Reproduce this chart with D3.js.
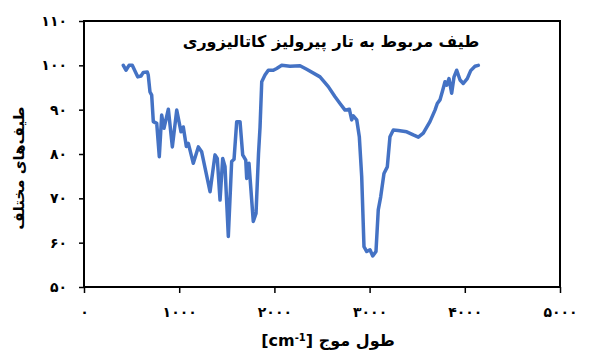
<!DOCTYPE html>
<html>
<head>
<meta charset="utf-8">
<script src="https://cdn.jsdelivr.net/npm/d3@7"></script>
<style>
  body { margin: 0; background: #fff; }
  text { font-family: "DejaVu Sans", "Liberation Serif", sans-serif; font-weight: bold; fill: #000; }
</style>
</head>
<body>
<div id="chart"></div>
<script>
// wavenumber (cm-1) and transmittance
const waveNumbers = [413, 441, 473, 507, 564, 599, 623, 665, 675, 693, 711, 728, 764, 791, 816, 840, 886, 928, 974, 1019,
  1043, 1075, 1096, 1148, 1201, 1236, 1324, 1376, 1400, 1429, 1457, 1481, 1516, 1551, 1576, 1604, 1639, 1667, 1699, 1709,
  1733, 1778, 1807, 1833, 1849, 1867, 1901, 1936, 1989, 2024, 2077, 2164, 2269, 2339, 2479, 2566, 2637, 2689, 2742, 2787,
  2812, 2829, 2865, 2892, 2917, 2941, 2970, 3004, 3033, 3067, 3091, 3117, 3151, 3186, 3214, 3249, 3301, 3390, 3459, 3512,
  3564, 3634, 3687, 3711, 3739, 3768, 3792, 3810, 3834, 3862, 3887, 3915, 3950, 3984, 4026, 4062, 4107, 4142];
const transmittance = [100, 98.9, 100, 100, 97.4, 97.6, 98.4, 98.5, 97.8, 94, 93.3, 87.3, 86.9, 79.4, 88.8, 85.8, 90.1, 81.6, 89.9, 85.0,
  86.1, 81.7, 82.4, 77.9, 81.6, 80.5, 71.5, 79.8, 79.0, 69.6, 79.0, 77.2, 61.4, 78.3, 78.8, 87.3, 87.3, 79.8, 78.6, 74.5,
  77.9, 64.8, 66.6, 80, 86, 96.3, 97.8, 98.9, 98.9, 99.3, 100, 99.8, 99.9, 99.1, 97.4, 95.2, 92.9, 91.4, 89.9, 90.1,
  87.7, 88.6, 87.7, 83.9, 74.9, 59.1, 58.0, 58.4, 57.0, 58.0, 67.4, 70.4, 75.6, 77.1, 83.9, 85.4, 85.3, 85.0, 84.3, 83.8,
  84.7, 87.3, 89.9, 91.4, 92.2, 94.4, 96.3, 95.5, 97.0, 93.7, 97.4, 98.9, 96.7, 95.9, 97.0, 98.8, 99.8, 100];
const xTicks = [0, 1000, 2000, 3000, 4000, 5000];
const yTicks = [50, 60, 70, 80, 90, 100, 110];

const chartTitle = "طیف مربوط به تار پیرولیز کاتالیزوری";
const yTitle = "طیف\u200Cهای مختلف";
const xTitle = "طول موج ";

const toFa = n => String(n).replace(/\d/g, c => "۰۱۲۳۴۵۶۷۸۹"[c]);

const width = 600, height = 358;
const margin = { top: 21, right: 40, bottom: 71, left: 84 };
const w = width - margin.left - margin.right;
const h = height - margin.top - margin.bottom;

const svg = d3.select("#chart").append("svg")
  .attr("width", width)
  .attr("height", height);

const g = svg.append("g").attr("transform", `translate(${margin.left},${margin.top})`);

const x = d3.scaleLinear().domain([0, 5000]).range([0, w]);
const y = d3.scaleLinear().domain([50, 110]).range([h, 0]);

const xAxis = g.append("g")
  .attr("transform", `translate(0,${h})`)
  .call(d3.axisBottom(x).tickValues(xTicks).tickSize(6).tickPadding(14).tickFormat(toFa));
const yAxis = g.append("g")
  .call(d3.axisLeft(y).tickValues(yTicks).tickSize(5).tickPadding(12).tickFormat(toFa));

[xAxis, yAxis].forEach(a => {
  a.select(".domain").remove();
  a.selectAll("line").attr("stroke", "#000").attr("stroke-width", 1.5);
  a.selectAll("text").style("font-size", "14px").style("font-family", "DejaVu Sans").style("font-weight", "bold");
});

// frame
g.append("rect")
  .attr("width", w).attr("height", h)
  .attr("fill", "none").attr("stroke", "#000").attr("stroke-width", 2);

const line = d3.line()
  .x((d, i) => x(waveNumbers[i]))
  .y(d => y(d));

g.append("path")
  .datum(transmittance)
  .attr("fill", "none")
  .attr("stroke", "#4472C4")
  .attr("stroke-width", 3.5)
  .attr("stroke-linejoin", "round")
  .attr("stroke-linecap", "round")
  .attr("d", line);

svg.append("text")
  .attr("x", 331).attr("y", 47)
  .attr("text-anchor", "middle")
  .attr("direction", "rtl")
  .style("font-size", "16px")
  .text(chartTitle);

svg.append("text")
  .attr("transform", "translate(24,168) rotate(-90)")
  .attr("text-anchor", "middle")
  .attr("direction", "rtl")
  .style("font-size", "15px")
  .text(yTitle);

const xt = svg.append("text")
  .attr("x", 328).attr("y", 346)
  .attr("text-anchor", "middle")
  .attr("direction", "rtl")
  .style("font-size", "16px");
xt.append("tspan").text(xTitle + "\u200E[cm");
xt.append("tspan").attr("baseline-shift", "super").style("font-size", "10px").text("-1");
xt.append("tspan").text("]\u200E");
</script>
</body>
</html>
